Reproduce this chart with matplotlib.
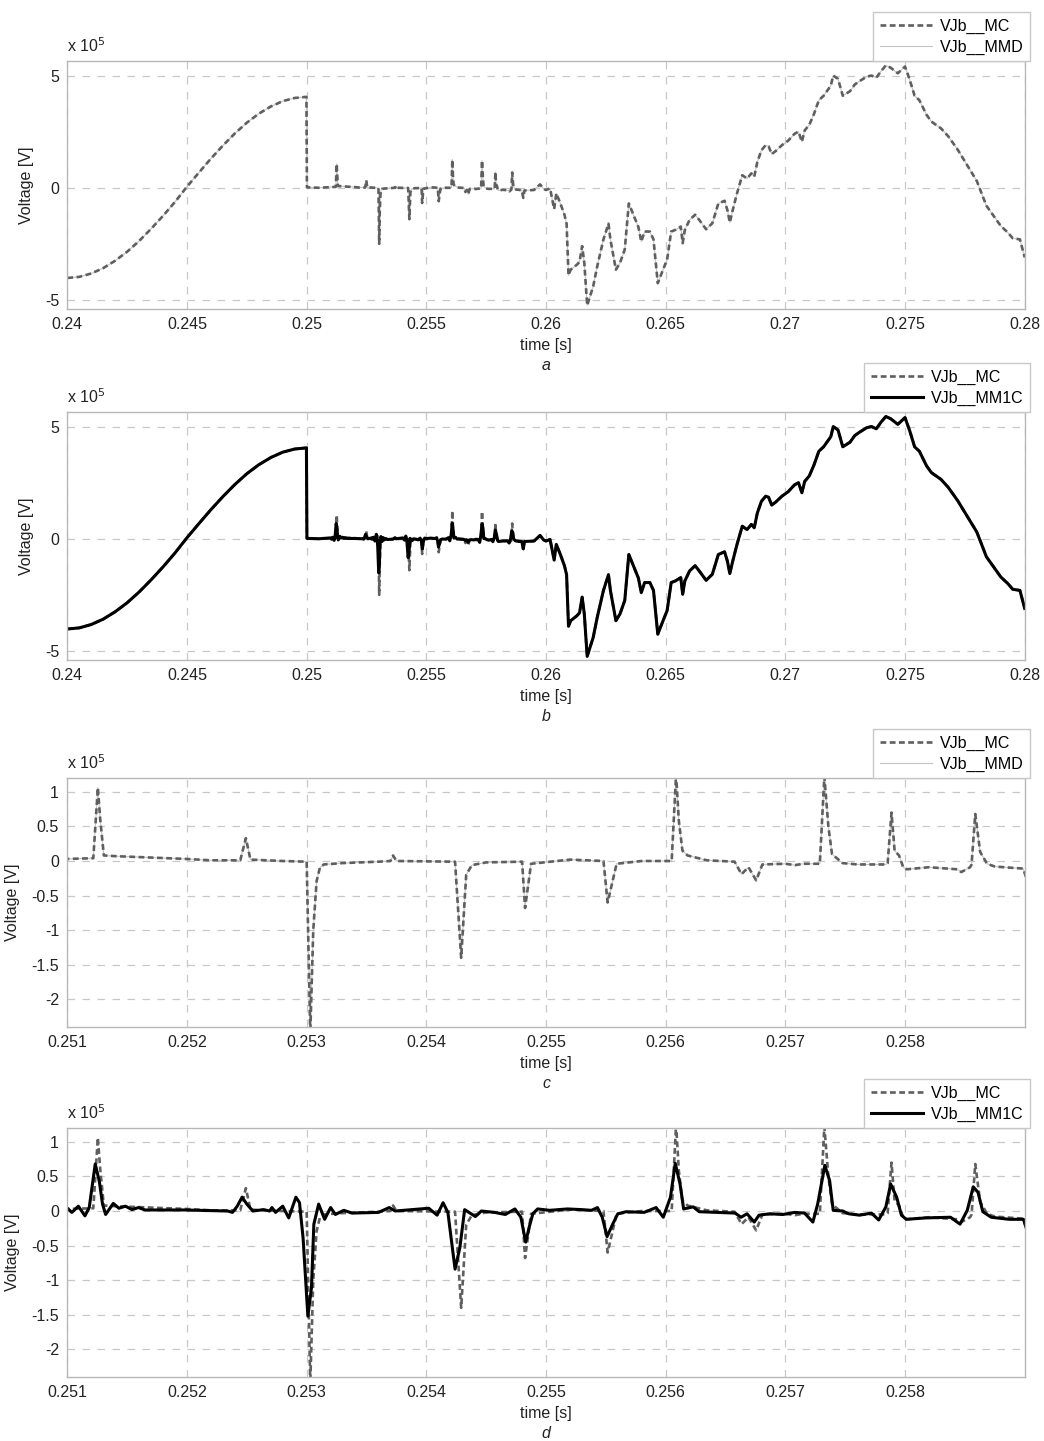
import numpy as np
import matplotlib.pyplot as plt
import matplotlib.ticker as mticker

plt.rcParams["font.family"] = ["Liberation Sans", "DejaVu Sans"]
plt.rcParams["axes.unicode_minus"] = False

# ---------------------------------------------------------------- data
# voltage values in units of 1e5 V

# VJb__MC : full record 0.24 .. 0.28 s
t_mc = [0.2400, 0.2405, 0.2410, 0.2415, 0.2420, 0.2425, 0.2430, 0.2435, 0.2440, 0.2445,
        0.2450, 0.2455, 0.2460, 0.2465, 0.2470, 0.2475, 0.2480, 0.2485, 0.2490, 0.2495,
        0.24999, 0.25001, 0.2505, 0.2510,
        0.251217, 0.251255, 0.251275, 0.251305, 0.2514, 0.25199, 0.2522, 0.252445, 0.252492, 0.25253,
        0.2528, 0.25300, 0.25303, 0.253055, 0.253083, 0.25311, 0.253143, 0.2533, 0.2536, 0.2537,
        0.253722, 0.25375, 0.25424, 0.254291, 0.254333, 0.25438, 0.2545, 0.2548, 0.254825, 0.254875,
        0.2552, 0.25548, 0.255515, 0.25559, 0.2558, 0.25605, 0.256087, 0.25611, 0.25614, 0.256183,
        0.256343, 0.256576, 0.256634, 0.256692, 0.256756, 0.256808, 0.25700, 0.25708, 0.25715, 0.257288,
        0.257326, 0.25736, 0.25739, 0.257477, 0.2576, 0.25784, 0.257855, 0.257887, 0.257913, 0.25795,
        0.257985, 0.258015, 0.2582, 0.258436, 0.25847, 0.258544, 0.258556, 0.258587, 0.258628, 0.258686,
        0.25875, 0.258988, 0.25905, 0.2591, 0.2595, 0.25975, 0.2599, 0.2600, 0.26017, 0.26034,
        0.26043, 0.2606, 0.26077, 0.26086, 0.26094, 0.26103, 0.26129, 0.2614, 0.26151, 0.2616,
        0.26172, 0.26197, 0.26214, 0.2624, 0.26261, 0.26269, 0.26292, 0.26309, 0.26329, 0.26346,
        0.26369, 0.26386, 0.26398, 0.26412, 0.26434, 0.26449, 0.26467, 0.26489, 0.26506, 0.26523,
        0.2654, 0.26563, 0.26571, 0.2658, 0.2660, 0.26623, 0.2664, 0.26669, 0.26695, 0.2672,
        0.26746, 0.26758, 0.26768, 0.2678, 0.26798, 0.2682, 0.2684, 0.26858, 0.2687, 0.26883,
        0.2690, 0.26918, 0.2693, 0.26943, 0.2696, 0.26986, 0.27012, 0.27038, 0.27055, 0.27069,
        0.27081, 0.2710, 0.2712, 0.2714, 0.2716, 0.2718, 0.2719, 0.2720, 0.2722, 0.2724,
        0.2727, 0.2729, 0.2731, 0.2734, 0.2736, 0.2738, 0.2740, 0.2742, 0.2744, 0.2747,
        0.2750, 0.2752, 0.2754, 0.2756, 0.2759, 0.2761, 0.2763, 0.2765, 0.2768, 0.2772,
        0.2776, 0.2780, 0.2784, 0.2786, 0.2790, 0.2793, 0.2795, 0.2798, 0.2800]
v_mc = [-4.02, -3.97, -3.82, -3.58, -3.25, -2.85, -2.37, -1.83, -1.25, -0.63,
        0.05, 0.68, 1.30, 1.88, 2.42, 2.90, 3.30, 3.62, 3.86, 4.00,
        4.05, 0.02, 0.00, 0.03,
        0.04, 1.06, 0.60, 0.08, 0.07, 0.03, 0.01, 0.01, 0.33, 0.02,
        0.00, -0.01, -2.50, -1.00, -0.29, -0.10, -0.05, -0.03, -0.01, 0.00,
        0.08, 0.00, -0.01, -1.40, -0.20, -0.06, -0.02, -0.01, -0.68, -0.04,
        0.02, 0.00, -0.60, -0.04, 0.00, 0.00, 1.25, 0.58, 0.15, 0.08,
        0.01, -0.01, -0.19, -0.09, -0.28, -0.05, -0.04, -0.06, -0.04, -0.04,
        1.22, 0.49, 0.10, -0.03, -0.05, -0.05, -0.03, 0.70, 0.15, 0.08,
        -0.09, -0.12, -0.09, -0.12, -0.16, -0.09, -0.05, 0.68, 0.13, -0.04,
        -0.08, -0.11, -0.45, -0.12, -0.10, 0.15, -0.05, -0.10, -0.03, -0.95,
        -0.25, -0.70, -1.20, -1.60, -3.90, -3.65, -3.43, -3.30, -2.60, -3.35,
        -5.24, -4.40, -3.50, -2.30, -1.60, -2.30, -3.65, -3.35, -2.75, -0.70,
        -1.30, -1.75, -2.40, -1.95, -1.95, -2.30, -4.25, -3.65, -3.20, -1.95,
        -1.88, -1.73, -2.47, -1.88, -1.43, -1.20, -1.43, -1.85, -1.58, -0.70,
        -0.58, -1.00, -1.55, -1.00, -0.25, 0.56, 0.41, 0.64, 0.49, 1.15,
        1.67, 1.90, 1.85, 1.50, 1.64, 1.90, 2.10, 2.40, 2.50, 2.05,
        2.56, 2.80, 3.30, 3.90, 4.10, 4.40, 4.55, 5.00, 4.85, 4.10,
        4.30, 4.60, 4.75, 4.95, 5.00, 4.90, 5.20, 5.45, 5.35, 5.10,
        5.40, 4.80, 4.10, 3.90, 3.25, 2.95, 2.80, 2.65, 2.30, 1.70,
        1.00, 0.30, -0.80, -1.10, -1.70, -2.00, -2.25, -2.30, -3.10]

# VJb__MM1C : detailed record inside the 0.251 .. 0.259 s window
t_mm1c_win = [0.251000, 0.251038, 0.251092, 0.251147, 0.251183, 0.251233, 0.251267, 0.251294, 0.25132, 0.251384,
              0.251431, 0.251486, 0.25154, 0.251594, 0.25165, 0.25198, 0.25234, 0.25238, 0.25242, 0.25246,
              0.2525, 0.25255, 0.25264, 0.25269, 0.25271, 0.25274, 0.2528, 0.25285, 0.25291, 0.25294,
              0.25297, 0.25301, 0.25304, 0.25306, 0.2531, 0.25315, 0.2532, 0.25324, 0.25331, 0.25338,
              0.2536, 0.25369, 0.25374, 0.25402, 0.25409, 0.25414, 0.25418, 0.25424, 0.25428, 0.25432,
              0.25441, 0.25446, 0.25457, 0.25466, 0.25474, 0.25479, 0.25483, 0.25486, 0.25489, 0.25493,
              0.25503, 0.25518, 0.2553, 0.25538, 0.25543, 0.25547, 0.25551, 0.25556, 0.2556, 0.25567,
              0.25582, 0.25592, 0.25598, 0.25604, 0.25608, 0.25612, 0.25615, 0.25623, 0.25628, 0.25658,
              0.25663, 0.25668, 0.25674, 0.25678, 0.25687, 0.25698, 0.25708, 0.25716, 0.25723, 0.25727,
              0.25733, 0.25737, 0.2574, 0.25748, 0.25753, 0.25762, 0.25772, 0.25778, 0.25784, 0.25788,
              0.25793, 0.25797, 0.25801, 0.25817, 0.25838, 0.25846, 0.25852, 0.25857, 0.25861, 0.25865,
              0.25872, 0.25887, 0.25899]
v_mm1c_win = [0.04, -0.02, 0.07, -0.07, 0.05, 0.68, 0.43, 0.10, -0.05, 0.11,
              0.04, 0.07, 0.02, 0.05, 0.015, 0.015, 0.00, -0.02, 0.07, 0.20,
              0.10, 0.00, 0.02, 0.00, 0.05, -0.02, 0.07, -0.10, 0.20, 0.12,
              -0.39, -1.52, -1.11, -0.19, 0.10, -0.12, 0.05, -0.05, 0.01, -0.03,
              -0.02, 0.05, 0.00, 0.04, -0.06, 0.12, -0.02, -0.84, -0.53, 0.02,
              -0.08, 0.00, -0.02, -0.05, 0.03, -0.09, -0.45, -0.23, -0.04, 0.03,
              0.01, 0.03, 0.02, 0.01, 0.05, -0.09, -0.37, -0.18, -0.04, -0.01,
              -0.02, 0.05, -0.09, 0.20, 0.69, 0.39, 0.03, 0.06, -0.01, -0.03,
              -0.09, -0.04, -0.16, -0.06, -0.04, -0.05, -0.02, -0.03, -0.16, 0.10,
              0.66, 0.44, 0.01, 0.00, -0.04, -0.06, -0.03, -0.13, 0.06, 0.39,
              0.20, -0.06, -0.12, -0.10, -0.09, -0.19, 0.01, 0.35, 0.27, -0.01,
              -0.09, -0.12, -0.12]

# outside the window MM1C follows MC
t_mc_arr = np.array(t_mc)
v_mc_arr = np.array(v_mc)
before = t_mc_arr < 0.251
after = t_mc_arr > 0.259
t_mm1c = np.concatenate([t_mc_arr[before], t_mm1c_win, t_mc_arr[after]])
v_mm1c = np.concatenate([v_mc_arr[before], v_mm1c_win, v_mc_arr[after]])

# ---------------------------------------------------------------- figure
fig = plt.figure(figsize=(10.44, 14.41), dpi=100)

left, width = 0.0645, 0.917
ax_a = fig.add_axes([left, 0.7856, width, 0.1721])
ax_b = fig.add_axes([left, 0.5420, width, 0.1721])
ax_c = fig.add_axes([left, 0.2873, width, 0.1728])
ax_d = fig.add_axes([left, 0.0444, width, 0.1728])

mc_style = dict(color="#5f5f5f", linewidth=1.9, linestyle=(0, (2.2, 1.3)))
mmd_style = dict(color="#c4c4c4", linewidth=0.8, linestyle="-")
mm1c_style = dict(color="black", linewidth=2.2, linestyle="-")

# a
ax_a.plot(t_mc, v_mc, label="VJb__MMD", **mmd_style)
ax_a.plot(t_mc, v_mc, label="VJb__MC", **mc_style)
# b
ax_b.plot(t_mc, v_mc, label="VJb__MC", **mc_style)
ax_b.plot(t_mm1c, v_mm1c, label="VJb__MM1C", **mm1c_style)
# c
ax_c.plot(t_mc, v_mc, label="VJb__MMD", **mmd_style)
ax_c.plot(t_mc, v_mc, label="VJb__MC", **mc_style)
# d
ax_d.plot(t_mc, v_mc, label="VJb__MC", **mc_style)
ax_d.plot(t_mm1c, v_mm1c, label="VJb__MM1C", **mm1c_style)

fmt = mticker.FuncFormatter(lambda v, p: "{:g}".format(round(v, 6)))

for ax, tag in zip([ax_a, ax_b, ax_c, ax_d], ["a", "b", "c", "d"]):
    if tag in "ab":
        ax.set_xlim(0.24, 0.28)
        ax.set_ylim(-5.4, 5.65)
        ax.set_xticks(np.arange(0.24, 0.28001, 0.005))
        ax.set_yticks([-5, 0, 5])
    else:
        ax.set_xlim(0.251, 0.259)
        ax.set_ylim(-2.4, 1.2)
        ax.set_xticks(np.arange(0.251, 0.25801, 0.001))
        ax.set_yticks([-2, -1.5, -1, -0.5, 0, 0.5, 1])
    ax.xaxis.set_major_formatter(fmt)
    ax.yaxis.set_major_formatter(fmt)
    ax.grid(True, color="#c8c8c8", linestyle=(0, (6, 6)), linewidth=0.9)
    for s in ax.spines.values():
        s.set_color("#b8b8b8")
        s.set_linewidth(1.0)
    ax.tick_params(length=0, labelsize=11.5, colors="#222222", pad=6)
    ax.set_xlabel("time [s]", fontsize=11.5, color="#222222", labelpad=4)
    ax.set_ylabel("Voltage [V]", fontsize=11.5, color="#222222", labelpad=8)
    ax.text(0.0, 1.025, r"x 10$^5$", transform=ax.transAxes, ha="left", va="bottom",
            fontsize=11.5, color="#222222")
    ax.text(0.5, -0.228, tag, transform=ax.transAxes, ha="center", va="center",
            fontsize=11.5, style="italic", color="#222222")

    handles, labels = ax.get_legend_handles_labels()
    order = [labels.index("VJb__MC")] + [i for i, l in enumerate(labels) if l != "VJb__MC"]
    leg = ax.legend([handles[i] for i in order], [labels[i] for i in order],
                    loc="lower right", bbox_to_anchor=(1.006, 1.0), fontsize=11.5,
                    handlelength=3.3, handletextpad=0.5, borderpad=0.4,
                    labelspacing=0.35, fancybox=False, framealpha=1.0,
                    edgecolor="#c8c8c8", borderaxespad=0.0)
    leg.get_frame().set_linewidth(1.0)

fig.savefig("out.png", dpi=100, facecolor="white")
